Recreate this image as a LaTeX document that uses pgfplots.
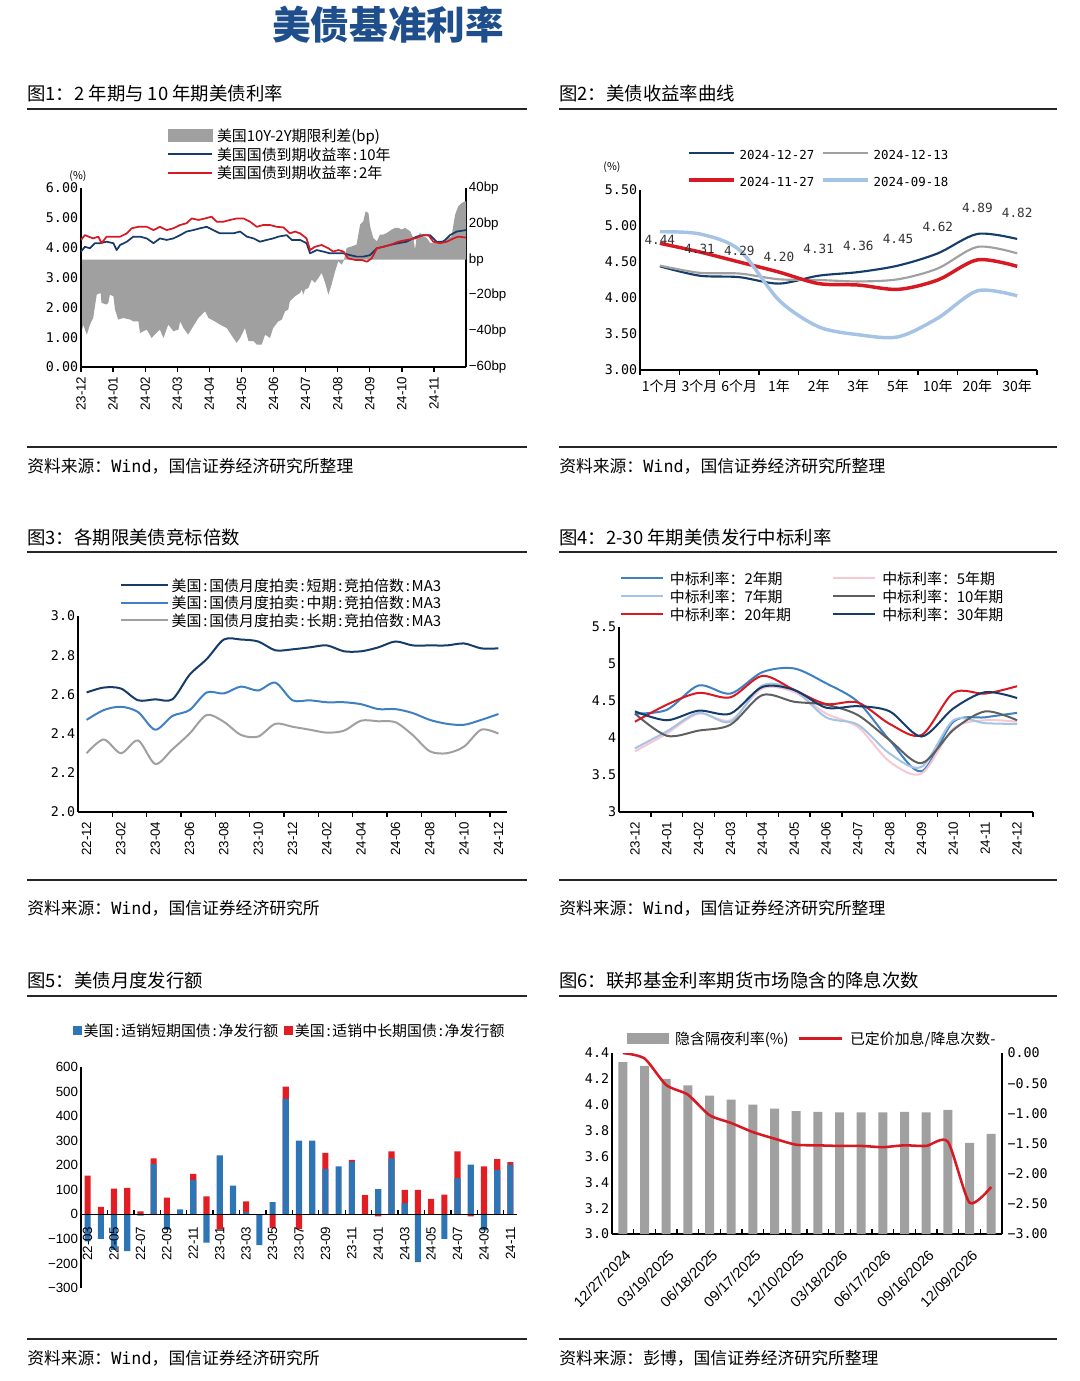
\documentclass[border=0pt]{standalone}
\usepackage{fontspec}
\setmainfont{Noto Sans CJK SC}
\newfontfamily\mono{DejaVu Sans Mono}
\newfontfamily\arial{Liberation Sans}
\usepackage{pgfplots}
\pgfplotsset{compat=1.18}

\definecolor{titleblue}{RGB}{30,78,140}
\definecolor{navy}{RGB}{22,60,105}
\definecolor{cred}{RGB}{215,25,35}
\definecolor{cgray}{RGB}{160,160,160}
\definecolor{lblue}{RGB}{165,195,228}
\definecolor{mblue}{RGB}{62,128,194}
\definecolor{cpink}{RGB}{245,200,210}
\definecolor{dgray}{RGB}{95,95,95}
\definecolor{barblue}{RGB}{46,117,182}
\definecolor{barred}{RGB}{224,30,36}

\newcommand\tf{\arial\fontsize{10pt}{12pt}\selectfont}
\newcommand\mf{\mono\fontsize{10pt}{12pt}\selectfont}
\newcommand\cf{\fontsize{10.5pt}{12pt}\selectfont}
\newcommand\lf{\fontsize{11.2pt}{13pt}\selectfont}
\newcommand\ttl{\fontsize{13.8pt}{16pt}\selectfont}
\newcommand\src{\fontsize{12.6pt}{14pt}\selectfont}
\newcommand\cc{\kern0.12em:\kern0.12em}
\newcommand\LI[2]{\addlegendimage{legend image code/.code={\draw[#1] (0pt,1.3pt) -- (#2,1.3pt);}}}
\newcommand\AI[3]{\addlegendimage{legend image code/.code={\fill[#1] (0pt,{1.3pt-#3/2}) rectangle (#2,{1.3pt+#3/2});}}}

\pgfplotsset{base/.style={scale only axis, anchor=south west,
  axis line style={line width=1.1pt,black},
  major tick length=0pt, minor tick length=3.5pt, tick align=outside,
  every tick/.style={black,line width=1pt},
  tick label style={inner sep=2pt},
  legend cell align=left,
  legend style={draw=none,fill=none,inner sep=0pt,outer sep=0pt,font=\lf,
    nodes={inner sep=0pt,text height=9pt,text depth=2.5pt}}}}

\begin{document}
\begin{tikzpicture}
\path (0pt,0pt) rectangle (810pt,-1035.75pt);

\node[font=\bfseries\fontsize{29pt}{30pt}\selectfont,text=titleblue] at (291pt,-18.75pt) {美债基准利率};

% titles
\node[anchor=west,font=\ttl,inner sep=0pt] at (20.25pt,-69.75pt) {图1：2 年期与 10 年期美债利率};
\node[anchor=west,font=\ttl,inner sep=0pt] at (419.25pt,-69.75pt) {图2：美债收益率曲线};
\node[anchor=west,font=\ttl,inner sep=0pt] at (20.25pt,-402.75pt) {图3：各期限美债竞标倍数};
\node[anchor=west,font=\ttl,inner sep=0pt] at (419.25pt,-402.75pt) {图4：2-30 年期美债发行中标利率};
\node[anchor=west,font=\ttl,inner sep=0pt] at (20.25pt,-735pt) {图5：美债月度发行额};
\node[anchor=west,font=\ttl,inner sep=0pt] at (419.25pt,-735pt) {图6：联邦基金利率期货市场隐含的降息次数};
% rules
\foreach \y in {-81.75,-335.25,-414,-660,-747,-1004.25}{
  \draw[line width=1.1pt,black!85] (20.25pt,\y pt) -- (395.25pt,\y pt);
  \draw[line width=1.1pt,black!85] (419.25pt,\y pt) -- (792.75pt,\y pt);}
% sources
\node[anchor=west,font=\src,inner sep=0pt] at (20.25pt,-349.5pt) {资料来源：{\mono Wind}，国信证券经济研究所整理};
\node[anchor=west,font=\src,inner sep=0pt] at (419.25pt,-349.5pt) {资料来源：{\mono Wind}，国信证券经济研究所整理};
\node[anchor=west,font=\src,inner sep=0pt] at (20.25pt,-681pt) {资料来源：{\mono Wind}，国信证券经济研究所};
\node[anchor=west,font=\src,inner sep=0pt] at (419.25pt,-681pt) {资料来源：{\mono Wind}，国信证券经济研究所整理};
\node[anchor=west,font=\src,inner sep=0pt] at (20.25pt,-1018.5pt) {资料来源：{\mono Wind}，国信证券经济研究所};
\node[anchor=west,font=\src,inner sep=0pt] at (419.25pt,-1018.5pt) {资料来源：彭博，国信证券经济研究所整理};

% ================= Panel 1 =================
\begin{axis}[base, at={(60.75pt,-275.25pt)}, width=288.75pt, height=134.25pt,
  xmin=0, xmax=12, ymin=-60, ymax=40, axis x line=none, axis y line*=right,
  ytick={-60,-40,-20,0,20,40}, yticklabels={−60bp,−40bp,−20bp,bp,20bp,40bp},
  yticklabel style={font=\tf}]
\addplot[fill=cgray, draw=none, forget plot] coordinates {
(0,0) (0,-41.9) (0.07,-36.3) (0.18,-41.9) (0.28,-36.3) (0.38,-32.6) (0.49,-19.6) (0.61,-18.6) (0.64,-24.2) (0.80,-25.1) (0.85,-24.2) (0.90,-19.6) (1.01,-20.5) (1.06,-27.9) (1.16,-33.5) (1.32,-32.6) (1.53,-33.5) (1.63,-34.5) (1.79,-34.5) (1.84,-41.0) (2.05,-39.1) (2.20,-43.8) (2.30,-41.9) (2.46,-39.1) (2.57,-43.8) (2.72,-36.3) (2.88,-40.0) (3.04,-39.1) (3.09,-34.5) (3.19,-38.2) (3.34,-41.9) (3.50,-37.2) (3.66,-32.6) (3.87,-28.9) (3.97,-32.6) (4.07,-33.5) (4.17,-34.5) (4.33,-36.3) (4.54,-38.2) (4.75,-43.8) (4.85,-46.5) (4.96,-43.8) (5.11,-38.2) (5.22,-45.6) (5.38,-45.6) (5.48,-47.5) (5.63,-47.5) (5.74,-41.9) (5.89,-43.8) (5.99,-38.2) (6.15,-34.5)
(6.26,-33.5) (6.36,-28.9) (6.46,-27.9) (6.51,-23.3) (6.67,-20.5) (6.83,-18.6) (6.88,-16.8) (6.93,-19.6) (6.98,-16.8) (7.09,-15.8) (7.19,-11.2) (7.29,-13.0) (7.40,-10.2) (7.50,-7.4) (7.61,-13.0) (7.71,-19.6) (7.81,-14.0) (7.92,-6.5) (8.02,-0.9) (8.13,-2.8) (8.20,0) (8.28,6.5) (8.44,7.4) (8.59,8.4) (8.70,19.6) (8.80,21.4) (8.87,27.0) (8.96,26.0) (9.01,18.6) (9.11,12.1) (9.22,10.2) (9.32,14.0) (9.42,14.0) (9.53,14.9) (9.69,16.8) (9.79,17.7) (9.89,17.7) (10.00,16.8) (10.10,17.7) (10.26,15.8) (10.36,12.1) (10.41,5.6) (10.46,12.1) (10.57,14.9) (10.67,13.0) (10.78,12.1) (10.88,9.3) (11.03,9.3) (11.19,10.2) (11.35,11.2) (11.45,12.1) (11.55,13.0) (11.66,25.1) (11.76,29.8) (11.87,31.7) (11.97,32.6) (12,32.6) (12,0)};
\end{axis}
\begin{axis}[base, at={(60.75pt,-275.25pt)}, width=288.75pt, height=134.25pt,
  xmin=0, xmax=12, ymin=0, ymax=6, axis x line*=bottom, axis y line*=left,
  xtick={0,...,11}, xticklabels={23-12,24-01,24-02,24-03,24-04,24-05,24-06,24-07,24-08,24-09,24-10,24-11},
  minor xtick={0,...,11},
  xticklabel style={rotate=90,anchor=east,font=\tf,xshift=-5pt},
  ytick={0,...,6}, yticklabels={0.00,1.00,2.00,3.00,4.00,5.00,6.00}, yticklabel style={font=\mf},
  legend style={at={(0.2234,1.328)},anchor=north west,row sep=2.4pt,column sep=3pt}]
\AI{cgray}{33pt}{9pt}\addlegendentry{美国10Y-2Y期限利差(bp)}
\LI{navy,line width=1.5pt}{33pt}\addlegendentry{美国国债到期收益率\cc 10年}
\LI{cred,line width=1.5pt}{33pt}\addlegendentry{美国国债到期收益率\cc 2年}
\addplot[navy, line width=1.3pt, line join=round, forget plot] coordinates {
(0,3.87) (0.12,4.03) (0.28,3.98) (0.43,4.15) (0.59,4.15) (0.80,4.20) (1.01,4.15) (1.11,3.92) (1.22,4.09) (1.43,4.20) (1.63,4.37) (1.84,4.37) (2.05,4.31) (2.26,4.15) (2.46,4.31) (2.67,4.26) (2.88,4.31) (3.09,4.42) (3.29,4.54) (3.50,4.59) (3.71,4.65) (3.92,4.70) (4.12,4.59) (4.33,4.48) (4.54,4.48) (4.75,4.48) (4.96,4.54) (5.17,4.37) (5.38,4.31) (5.58,4.20) (5.79,4.26) (5.99,4.31) (6.15,4.37) (6.41,4.42) (6.57,4.26) (6.83,4.26) (7.03,4.15) (7.14,3.81) (7.35,3.92) (7.55,3.87) (7.76,3.81) (7.97,3.81) (8.18,3.81) (8.39,3.75) (8.59,3.70) (8.80,3.70) (9.01,3.75) (9.22,3.98) (9.42,4.03) (9.63,4.09) (9.89,4.15) (10.15,4.20) (10.46,4.37) (10.67,4.42) (10.88,4.42) (11.08,4.20) (11.29,4.20) (11.50,4.42) (11.71,4.54) (12,4.59)};
\addplot[cred, line width=1.3pt, line join=round, forget plot] coordinates {
(0,4.26) (0.12,4.42) (0.38,4.31) (0.54,4.37) (0.64,4.15) (0.80,4.37) (1.01,4.37) (1.22,4.37) (1.43,4.48) (1.58,4.65) (1.79,4.70) (2.05,4.70) (2.26,4.59) (2.46,4.70) (2.67,4.59) (2.88,4.65) (3.09,4.76) (3.29,4.82) (3.45,4.98) (3.66,4.93) (3.87,4.98) (4.07,5.04) (4.23,4.87) (4.44,4.87) (4.65,4.93) (4.85,4.98) (5.06,4.98) (5.27,4.87) (5.48,4.70) (5.68,4.76) (5.89,4.76) (6.10,4.70) (6.31,4.68) (6.51,4.48) (6.67,4.54) (6.83,4.48) (7.03,4.31) (7.14,3.92) (7.29,4.03) (7.50,4.09) (7.71,3.98) (7.86,3.87) (8.02,3.92) (8.18,3.87) (8.33,3.64) (8.54,3.59) (8.75,3.59) (8.91,3.53) (9.06,3.64) (9.22,3.98) (9.42,4.03) (9.63,4.09) (9.89,4.20) (10.15,4.26) (10.41,4.31) (10.67,4.42) (10.83,4.42) (10.98,4.20) (11.19,4.15) (11.40,4.20) (11.61,4.31) (11.76,4.37) (12,4.34)};
\end{axis}
\node[font=\fontsize{8pt}{9pt}\selectfont] at (58.5pt,-132pt) {(\%)};

% ================= Panel 2 =================
\begin{axis}[base, at={(480pt,-277.5pt)}, width=297.75pt, height=135pt,
  xmin=-0.5, xmax=9.5, ymin=3, ymax=5.5, axis lines*=left,
  xtick={0,...,9}, xticklabels={1个月,3个月,6个月,1年,2年,3年,5年,10年,20年,30年},
  xticklabel style={font=\cf,yshift=-5pt},
  minor xtick={-0.5,0.5,...,9.5},
  ytick={3,3.5,...,5.5}, yticklabels={3.00,3.50,4.00,4.50,5.00,5.50}, yticklabel style={font=\mf},
  legend columns=2,
  legend style={at={(0.118,1.237)},anchor=north west,font=\mono\fontsize{9.3pt}{11pt}\selectfont,row sep=8.75pt,column sep=3pt,/tikz/every even column/.append style={column sep=5pt}}]
\LI{navy,line width=1.8pt}{33.75pt}\addlegendentry{2024-12-27}
\LI{cgray,line width=1.8pt}{33.75pt}\addlegendentry{2024-12-13}
\LI{cred,line width=2.8pt}{33.75pt}\addlegendentry{2024-11-27}
\LI{lblue,line width=2.8pt}{33.75pt}\addlegendentry{2024-09-18}
\addplot[navy, line width=1.6pt, smooth, forget plot, point meta=explicit symbolic, nodes near coords,
  every node near coord/.append style={font=\mono\fontsize{9.5pt}{11pt}\selectfont,text=black!80,anchor=south,yshift=12pt}] coordinates {
(0,4.44)[4.44] (1,4.31)[4.31] (2,4.29)[4.29] (3,4.20)[4.20] (4,4.31)[4.31] (5,4.36)[4.36] (6,4.45)[4.45] (7,4.62)[4.62] (8,4.89)[4.89] (9,4.82)[4.82]};
\addplot[cgray, line width=1.6pt, smooth, forget plot] coordinates {
(0,4.45) (1,4.35) (2,4.34) (3,4.26) (4,4.25) (5,4.23) (6,4.26) (7,4.41) (8,4.71) (9,4.62)};
\addplot[cred, line width=2.6pt, smooth, forget plot] coordinates {
(0,4.76) (1,4.64) (2,4.50) (3,4.36) (4,4.20) (5,4.18) (6,4.12) (7,4.25) (8,4.53) (9,4.44)};
\addplot[lblue, line width=2.6pt, smooth, forget plot] coordinates {
(0,4.92) (1,4.89) (2,4.67) (3,3.97) (4,3.60) (5,3.49) (6,3.46) (7,3.72) (8,4.10) (9,4.03)};
\end{axis}
\node[font=\fontsize{8pt}{9pt}\selectfont] at (459pt,-125.25pt) {(\%)};

% ================= Panel 3 =================
\begin{axis}[base, at={(58.5pt,-609pt)}, width=321.75pt, height=147pt,
  xmin=-0.5, xmax=24.5, ymin=2, ymax=3, axis lines*=left,
  xtick={0,2,...,24}, xticklabels={22-12,23-02,23-04,23-06,23-08,23-10,23-12,24-02,24-04,24-06,24-08,24-10,24-12},
  xticklabel style={rotate=90,anchor=east,font=\tf,xshift=-5pt},
  minor xtick={1.5,3.5,...,23.5},
  ytick={2,2.2,...,3.0}, yticklabels={2.0,2.2,2.4,2.6,2.8,3.0}, yticklabel style={font=\mf},
  legend style={at={(0.098,1.187)},anchor=north west,row sep=1.6pt,column sep=2.25pt}]
\LI{navy,line width=1.5pt}{35pt}\addlegendentry{美国\cc 国债月度拍卖\cc 短期\cc 竞拍倍数\cc MA3}
\LI{mblue,line width=1.5pt}{35pt}\addlegendentry{美国\cc 国债月度拍卖\cc 中期\cc 竞拍倍数\cc MA3}
\LI{cgray,line width=1.5pt}{35pt}\addlegendentry{美国\cc 国债月度拍卖\cc 长期\cc 竞拍倍数\cc MA3}
\addplot[navy, line width=1.5pt, smooth, forget plot] coordinates {
(0,2.61) (1,2.635) (2,2.63) (3,2.57) (4,2.575) (5,2.575) (6,2.70) (7,2.78) (8,2.88) (9,2.88) (10,2.87) (11,2.825) (12,2.83) (13,2.84) (14,2.85) (15,2.82) (16,2.82) (17,2.84) (18,2.87) (19,2.85) (20,2.85) (21,2.85) (22,2.86) (23,2.835) (24,2.835)};
\addplot[mblue, line width=1.5pt, smooth, forget plot] coordinates {
(0,2.47) (1,2.52) (2,2.537) (3,2.51) (4,2.42) (5,2.49) (6,2.52) (7,2.61) (8,2.605) (9,2.64) (10,2.62) (11,2.66) (12,2.57) (13,2.57) (14,2.56) (15,2.56) (16,2.55) (17,2.525) (18,2.525) (19,2.505) (20,2.47) (21,2.45) (22,2.445) (23,2.47) (24,2.50)};
\addplot[cgray, line width=1.5pt, smooth, forget plot] coordinates {
(0,2.30) (1,2.37) (2,2.30) (3,2.365) (4,2.245) (5,2.32) (6,2.40) (7,2.495) (8,2.46) (9,2.393) (10,2.385) (11,2.45) (12,2.435) (13,2.42) (14,2.405) (15,2.415) (16,2.466) (17,2.463) (18,2.458) (19,2.393) (20,2.31) (21,2.30) (22,2.334) (23,2.42) (24,2.40)};
\end{axis}

% ================= Panel 4 =================
\begin{axis}[base, at={(464.25pt,-609pt)}, width=310.5pt, height=138.75pt,
  xmin=-0.5, xmax=12.5, ymin=3, ymax=5.5, axis lines*=left,
  xtick={0,...,12}, xticklabels={23-12,24-01,24-02,24-03,24-04,24-05,24-06,24-07,24-08,24-09,24-10,24-11,24-12},
  xticklabel style={rotate=90,anchor=east,font=\tf,xshift=-5pt},
  minor xtick={0.5,1.5,...,12.5},
  ytick={3,3.5,...,5.5}, yticklabels={3,3.5,4,4.5,5,5.5}, yticklabel style={font=\mf},
  legend columns=2,
  legend style={at={(0.002,1.296)},anchor=north west,row sep=2pt,column sep=4.5pt,/tikz/every even column/.append style={column sep=31pt}}]
\LI{mblue,line width=1.5pt}{31.5pt}\addlegendentry{中标利率：2年期}
\LI{cpink,line width=1.5pt}{31.5pt}\addlegendentry{中标利率：5年期}
\LI{lblue,line width=1.5pt}{31.5pt}\addlegendentry{中标利率：7年期}
\LI{dgray,line width=1.5pt}{31.5pt}\addlegendentry{中标利率：10年期}
\LI{cred,line width=1.5pt}{31.5pt}\addlegendentry{中标利率：20年期}
\LI{navy,line width=1.5pt}{31.5pt}\addlegendentry{中标利率：30年期}
\addplot[mblue, line width=1.5pt, smooth, forget plot] coordinates {
(0,4.33) (1,4.38) (2,4.71) (3,4.60) (4,4.89) (5,4.94) (6,4.74) (7,4.49) (8,3.97) (9,3.55) (10,4.22) (11,4.28) (12,4.34)};
\addplot[cpink, line width=1.5pt, smooth, forget plot] coordinates {
(0,3.82) (1,4.06) (2,4.33) (3,4.24) (4,4.67) (5,4.62) (6,4.33) (7,4.15) (8,3.68) (9,3.52) (10,4.13) (11,4.24) (12,4.22)};
\addplot[lblue, line width=1.5pt, smooth, forget plot] coordinates {
(0,3.86) (1,4.09) (2,4.34) (3,4.22) (4,4.71) (5,4.65) (6,4.28) (7,4.18) (8,3.79) (9,3.61) (10,4.24) (11,4.20) (12,4.19)};
\addplot[dgray, line width=1.5pt, smooth, forget plot] coordinates {
(0,4.33) (1,4.03) (2,4.10) (3,4.18) (4,4.58) (5,4.49) (6,4.45) (7,4.31) (8,3.97) (9,3.66) (10,4.11) (11,4.36) (12,4.24)};
\addplot[cred, line width=1.5pt, smooth, forget plot] coordinates {
(0,4.22) (1,4.45) (2,4.61) (3,4.55) (4,4.84) (5,4.65) (6,4.46) (7,4.48) (8,4.19) (9,4.04) (10,4.61) (11,4.60) (12,4.70)};
\addplot[navy, line width=1.5pt, smooth, forget plot] coordinates {
(0,4.36) (1,4.24) (2,4.37) (3,4.33) (4,4.69) (5,4.65) (6,4.41) (7,4.43) (8,4.36) (9,4.02) (10,4.40) (11,4.62) (12,4.54)};
\end{axis}

% ================= Panel 5 =================
\begin{axis}[base, at={(60.75pt,-966pt)}, width=327pt, height=165.75pt,
  xmin=-0.5, xmax=32.5, ymin=-300, ymax=600, axis y line*=left, axis x line*=middle,
  axis on top, tick align=inside, hide obscured x ticks=false,
  xtick={0,2,...,32}, xticklabels={22-03,22-05,22-07,22-09,22-11,23-01,23-03,23-05,23-07,23-09,23-11,24-01,24-03,24-05,24-07,24-09,24-11},
  xticklabel style={rotate=90,anchor=east,font=\tf,xshift=-7pt},
  minor xtick={1.5,3.5,...,31.5},
  ytick={-300,-200,...,600}, yticklabels={−300,−200,−100,0,100,200,300,400,500,600}, yticklabel style={font=\tf},
  legend columns=2,
  legend style={at={(-0.018,1.158)},anchor=west,column sep=1.5pt,/tikz/every even column/.append style={column sep=4.5pt}}]
\AI{barblue}{6pt}{6pt}\addlegendentry{美国\cc 适销短期国债\cc 净发行额}
\AI{barred}{6pt}{6pt}\addlegendentry{美国\cc 适销中长期国债\cc 净发行额}
\addplot[ybar, bar width=4.6pt, bar shift=0pt, fill=barred, draw=none, forget plot] coordinates {
(0,158) (1,30) (2,105) (3,108) (4,12) (5,228) (6,68) (7,0) (8,165) (9,73) (10,-60) (11,0) (12,53) (13,0) (14,-55) (15,520) (16,-60) (17,0) (18,250) (19,0) (20,222) (21,78) (22,-8) (23,256) (24,100) (25,100) (26,63) (27,80) (28,256) (29,-8) (30,195) (31,225) (32,213)};
\addplot[ybar, bar width=4.6pt, bar shift=0pt, fill=barblue, draw=none, forget plot] coordinates {
(0,-110) (1,-100) (2,-145) (3,-150) (4,-5) (5,205) (6,-62) (7,20) (8,140) (9,-115) (10,240) (11,117) (12,10) (13,-125) (14,50) (15,470) (16,300) (17,300) (18,185) (19,195) (20,215) (21,0) (22,103) (23,228) (24,45) (25,-195) (26,0) (27,-100) (28,148) (29,203) (30,-65) (31,180) (32,203)};
\end{axis}

% ================= Panel 6 =================
\begin{axis}[base, at={(459pt,-925.5pt)}, width=292.5pt, height=135.75pt,
  xmin=-0.5, xmax=17.5, ymin=3, ymax=4.4, axis x line*=bottom, axis y line*=left,
  tick align=inside,
  xtick={0,2,...,16}, xticklabels={12/27/2024,03/19/2025,06/18/2025,09/17/2025,12/10/2025,03/18/2026,06/17/2026,09/16/2026,12/09/2026},
  xticklabel style={yshift=-8pt,xshift=1pt,rotate=45,anchor=north east,font=\arial\fontsize{11pt}{12pt}\selectfont},
  minor xtick={0.5,1.5,...,16.5},
  ytick={3,3.2,...,4.4}, yticklabels={3.0,3.2,3.4,3.6,3.8,4.0,4.2,4.4}, yticklabel style={font=\mf}]
\addplot[ybar, bar width=6.75pt, bar shift=0pt, fill=cgray, draw=none, forget plot] coordinates {
(0,4.33) (1,4.30) (2,4.20) (3,4.15) (4,4.07) (5,4.04) (6,4.00) (7,3.97) (8,3.95) (9,3.945) (10,3.94) (11,3.94) (12,3.94) (13,3.945) (14,3.94) (15,3.96) (16,3.705) (17,3.775)};
\end{axis}
\begin{axis}[base, at={(459pt,-925.5pt)}, width=292.5pt, height=135.75pt,
  xmin=-0.5, xmax=17.5, ymin=-3, ymax=0, axis x line=none, axis y line*=right,
  ytick={-3,-2.5,...,0}, yticklabels={−3.00,−2.50,−2.00,−1.50,−1.00,−0.50,0.00}, yticklabel style={font=\mf,xshift=2pt},
  legend columns=2,
  legend style={at={(0.0385,1.072)},anchor=west,column sep=5pt,/tikz/every even column/.append style={column sep=7pt}}]
\AI{cgray}{30.75pt}{7.5pt}\addlegendentry{隐含隔夜利率(\%)}
\LI{cred,line width=2pt}{32pt}\addlegendentry{已定价加息/降息次数-}
\addplot[cred, line width=1.9pt, smooth, tension=0.4, forget plot] coordinates {
(0,0.00) (1,-0.09) (2,-0.53) (3,-0.69) (4,-1.03) (5,-1.16) (6,-1.31) (7,-1.42) (8,-1.52) (9,-1.53) (10,-1.54) (11,-1.54) (12,-1.56) (13,-1.53) (14,-1.54) (15,-1.47) (16,-2.48) (17,-2.22)};
\end{axis}
\pgfresetboundingbox
\path[use as bounding box] (0pt,0pt) rectangle (810pt,-1035.75pt);
\end{tikzpicture}
\end{document}
